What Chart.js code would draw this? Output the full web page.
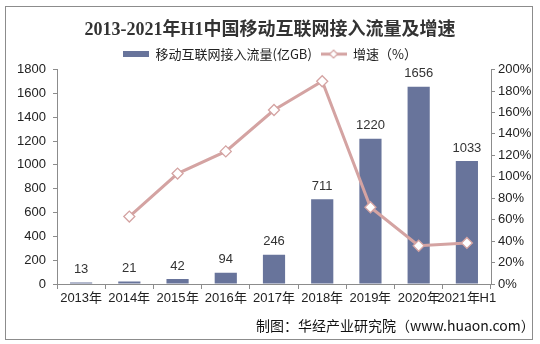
<!DOCTYPE html>
<html lang="zh-CN">
<head>
<meta charset="UTF-8">
<title>2013-2021年H1中国移动互联网接入流量及增速</title>
<script src="https://cdn.jsdelivr.net/npm/chart.js"></script>
<style>
	html, body { margin: 0; padding: 0; background: #fff; }
	.wrapper { position: relative; width: 540px; height: 344px; overflow: hidden; }
	.frame { position: absolute; left: 5px; top: 6px; width: 526px; height: 332px; border: 1px solid #8c8c8c; }
	#grafico { position: absolute; left: 0; top: 0; }
	.fonte { position: absolute; left: 256px; top: 315px; font: 14px "Noto Sans CJK SC", sans-serif; color: #111; white-space: nowrap; }
</style>
</head>
<body>
<div class="wrapper">
	<div class="frame"></div>
	<canvas id="grafico" width="540" height="344"></canvas>
	<div class="fonte">制图：华经产业研究院（www.huaon.com）</div>
</div>

<script>
	const anos = ['2013年', '2014年', '2015年', '2016年', '2017年', '2018年', '2019年', '2020年', '2021年H1'];
	const fluxo = [13, 21, 42, 94, 246, 711, 1220, 1656, 1033];
	const crescimento = [null, 62.9, 103.0, 123.7, 162.3, 189.1, 71.6, 35.7, 38.3];
	const ticksEsquerda = [0, 200, 400, 600, 800, 1000, 1200, 1400, 1600, 1800];
	const ticksDireita = [0, 20, 40, 60, 80, 100, 120, 140, 160, 180, 200];

	const corBarra = '#68749b';
	const corLinha = '#d4a3a2';

	// icones da legenda desenhados em canvas pequenos
	function iconeBarra() {
		const c = document.createElement('canvas');
		c.width = 26; c.height = 6;
		const g = c.getContext('2d');
		g.fillStyle = corBarra;
		g.fillRect(0, 0, 26, 6);
		return c;
	}
	function iconeLinha() {
		const c = document.createElement('canvas');
		c.width = 26; c.height = 10;
		const g = c.getContext('2d');
		g.strokeStyle = corLinha;
		g.lineWidth = 3;
		g.beginPath(); g.moveTo(0, 5); g.lineTo(26, 5); g.stroke();
		g.fillStyle = '#fff';
		g.lineWidth = 1.2;
		g.beginPath();
		g.moveTo(13, 1); g.lineTo(17, 5); g.lineTo(13, 9); g.lineTo(9, 5); g.closePath();
		g.fill(); g.stroke();
		return c;
	}

	// altura fixa da legenda para a area do grafico comecar no lugar certo
	const alturaLegenda = {
		id: 'alturaLegenda',
		beforeInit(chart) {
			const leg = chart.legend;
			if (!leg) return;
			const fit = leg.fit;
			leg.fit = function () {
				fit.call(this);
				this.height = 22;
			};
		}
	};

	const rotulos = {
		id: 'rotulos',
		afterDatasetsDraw(chart) {
			const ctx = chart.ctx;
			const meta = chart.getDatasetMeta(1);
			ctx.save();
			ctx.font = '13px "Liberation Sans", Arial, sans-serif';
			ctx.fillStyle = '#333';
			ctx.textAlign = 'center';
			ctx.textBaseline = 'middle';
			meta.data.forEach((bar, i) => {
				ctx.fillText(fluxo[i], bar.x, bar.y - 13);
			});
			ctx.restore();
		}
	};

	const fonteEixo = { family: '"Liberation Sans", Arial, sans-serif', size: 13 };

	new Chart(document.getElementById('grafico'), {
		data: {
			labels: anos,
			datasets: [
				{
					type: 'line',
					label: '增速（%）',
					data: crescimento,
					yAxisID: 'y1',
					borderColor: corLinha,
					borderWidth: 3,
					pointStyle: 'rectRot',
					pointRadius: 5.5,
					pointBackgroundColor: '#fff',
					pointBorderColor: corLinha,
					pointBorderWidth: 1.3,
					order: 0
				},
				{
					type: 'bar',
					label: '移动互联网接入流量(亿GB)',
					data: fluxo,
					yAxisID: 'y',
					backgroundColor: corBarra,
					categoryPercentage: 1,
					barPercentage: 0.46,
					order: 1
				}
			]
		},
		options: {
			responsive: false,
			animation: false,
			layout: { padding: 0 },
			plugins: {
				title: {
					display: true,
					text: '2013-2021年H1中国移动互联网接入流量及增速',
					color: '#333',
					font: { family: '"Liberation Serif", "Noto Sans CJK SC", serif', size: 18, weight: 'bold' },
					padding: { top: 20, bottom: 6 }
				},
				legend: {
					display: true,
					labels: {
						usePointStyle: true,
						pointStyleWidth: 26,
						boxHeight: 10,
						padding: 0,
						color: '#222',
						font: { family: '"Noto Sans CJK SC", sans-serif', size: 13 },
						generateLabels(chart) {
							return [
								{ text: '移动互联网接入流量(亿GB)   ', pointStyle: iconeBarra(), fillStyle: corBarra, strokeStyle: corBarra, lineWidth: 0, datasetIndex: 1, fontColor: '#222' },
								{ text: '增速（%）', pointStyle: iconeLinha(), fillStyle: corLinha, strokeStyle: corLinha, lineWidth: 0, datasetIndex: 0, fontColor: '#222' }
							];
						}
					}
				},
				tooltip: { enabled: false }
			},
			scales: {
				x: {
					offset: true,
					grid: { display: true, drawOnChartArea: false, offset: true, tickLength: 5, color: '#8c8c8c' },
					border: { color: '#8c8c8c' },
					ticks: { color: '#222', font: fonteEixo, padding: 2, maxRotation: 0, autoSkip: false },
					afterFit(scale) { scale.height = 60; }
				},
				y: {
					position: 'left',
					min: 0,
					max: 1800,
					afterBuildTicks(scale) { scale.ticks = ticksEsquerda.map(v => ({ value: v })); },
					grid: { display: true, drawOnChartArea: false, tickLength: 4, color: '#8c8c8c' },
					border: { color: '#8c8c8c' },
					ticks: { color: '#222', font: fonteEixo, padding: 7, callback: v => String(v) },
					afterFit(scale) { scale.width = 57; }
				},
				y1: {
					position: 'right',
					min: 0,
					max: 200,
					afterBuildTicks(scale) { scale.ticks = ticksDireita.map(v => ({ value: v })); },
					grid: { display: true, drawOnChartArea: false, tickLength: 4, color: '#8c8c8c' },
					border: { color: '#8c8c8c' },
					ticks: { color: '#222', font: fonteEixo, padding: 3, callback: v => v + '%' },
					afterFit(scale) { scale.width = 49; }
				}
			}
		},
		plugins: [alturaLegenda, rotulos]
	});
</script>
</body>
</html>
